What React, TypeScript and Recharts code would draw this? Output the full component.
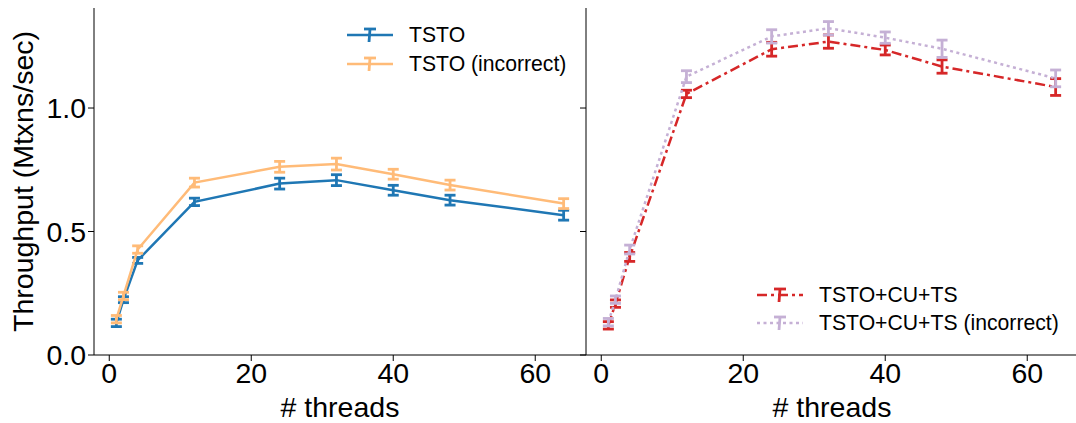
import React from "react"
import { LineChart, Line, XAxis, YAxis, ErrorBar, Legend, Label } from "recharts"

const threads = [1, 2, 4, 12, 24, 32, 40, 48, 64]

// left panel
const tsto = [0.13, 0.224, 0.383, 0.62, 0.694, 0.708, 0.667, 0.627, 0.566]
const tstoErr = [0.015, 0.012, 0.012, 0.015, 0.022, 0.022, 0.02, 0.02, 0.02]
const tstoBad = [0.145, 0.239, 0.427, 0.698, 0.762, 0.773, 0.732, 0.688, 0.613]
const tstoBadErr = [0.015, 0.015, 0.015, 0.018, 0.022, 0.024, 0.02, 0.02, 0.02]

// right panel
const tstoCu = [0.12, 0.208, 0.397, 1.057, 1.238, 1.269, 1.235, 1.168, 1.085]
const tstoCuErr = [0.015, 0.015, 0.018, 0.015, 0.028, 0.027, 0.02, 0.027, 0.034]
const tstoCuBad = [0.133, 0.224, 0.427, 1.127, 1.29, 1.323, 1.285, 1.24, 1.12]
const tstoCuBadErr = [0.015, 0.015, 0.018, 0.024, 0.027, 0.027, 0.023, 0.035, 0.034]

const xTicks = [0, 20, 40, 60]
const yTicks = [0, 0.5, 1.0]

const leftData = threads.map((t, i) => ({
  threads: t,
  tsto: tsto[i],
  tstoErr: tstoErr[i],
  tstoBad: tstoBad[i],
  tstoBadErr: tstoBadErr[i],
}))

const rightData = threads.map((t, i) => ({
  threads: t,
  tstoCu: tstoCu[i],
  tstoCuErr: tstoCuErr[i],
  tstoCuBad: tstoCuBad[i],
  tstoCuBadErr: tstoCuBadErr[i],
}))

const dashes: Record<string, string | undefined> = {
  tsto: undefined,
  tstoBad: undefined,
  tstoCu: "10 4 3 4",
  tstoCuBad: "3 3.5",
}

const X_DOMAIN: [number, number] = [-2.15, 67.15]
const Y_DOMAIN: [number, number] = [0, 1.405]
const FONT = "'Liberation Sans', Arial, sans-serif"
const BIG = 28.5

const LegendContent = ({ payload, rowHeight }: any) => (
  <div style={{ fontFamily: FONT }}>
    {(payload || []).map((entry: any) => {
      const dash = dashes[entry.dataKey]
      return (
        <div key={entry.value} style={{ display: "flex", alignItems: "center", height: rowHeight }}>
          <svg width={46} height={20} style={{ marginRight: 16 }}>
            <line x1={0} y1={10} x2={46} y2={10} stroke={entry.color} strokeWidth={2.5} strokeDasharray={dash} />
            <line x1={23} y1={4} x2={22} y2={17} stroke={entry.color} strokeWidth={2.8} />
            <line x1={17} y1={4} x2={29} y2={4} stroke={entry.color} strokeWidth={2.8} />
          </svg>
          <span style={{ fontSize: 21.2, color: "#000", whiteSpace: "nowrap" }}>{entry.value}</span>
        </div>
      )
    })}
  </div>
)

const YLabel = ({ viewBox }: any) => {
  const x = viewBox.x + 23
  const y = viewBox.y + viewBox.height / 2
  return (
    <text x={x} y={y} transform={`rotate(-90, ${x}, ${y})`} textAnchor="middle" dominantBaseline="central" fontSize={BIG} fill="#000">
      Throughput (Mtxns/sec)
    </text>
  )
}

const XLabel = ({ viewBox }: any) => (
  <text x={viewBox.x + viewBox.width / 2} y={viewBox.y + 52} textAnchor="middle" dominantBaseline="central" fontSize={BIG} fill="#000">
    # threads
  </text>
)

const tickStyle = { fontSize: BIG, fill: "#000" }

export default function App() {
  return (
    <div style={{ position: "absolute", left: 0, top: 0, width: 1076, height: 423, overflow: "hidden", background: "#fff", fontFamily: FONT }}>
      <div style={{ position: "absolute", left: 0, top: 0 }}>
        <LineChart width={590} height={423} data={leftData} margin={{ top: 8, right: 4, left: 0, bottom: 0 }}>
          <XAxis dataKey="threads" type="number" domain={X_DOMAIN} ticks={xTicks} allowDataOverflow height={68} tick={tickStyle} tickSize={6} stroke="#000">
            <Label content={<XLabel />} />
          </XAxis>
          <XAxis xAxisId="top" orientation="top" type="number" domain={X_DOMAIN} height={0} tick={false} tickLine={false} stroke="#000" />
          <YAxis type="number" domain={Y_DOMAIN} ticks={yTicks} allowDataOverflow width={94} tick={tickStyle} tickSize={6} tickFormatter={(v: number) => v.toFixed(1)} stroke="#000">
            <Label content={<YLabel />} />
          </YAxis>
          <YAxis yAxisId="right" orientation="right" type="number" domain={Y_DOMAIN} width={0} tick={false} tickLine={false} stroke="#000" />
          <Legend
            layout="vertical"
            align="center"
            verticalAlign="middle"
            wrapperStyle={{ left: 347, top: 21, width: 240 }}
            content={<LegendContent rowHeight={28.6} />}
          />
          <Line dataKey="tsto" name="TSTO" stroke="#1f77b4" strokeWidth={2.5} dot={false} isAnimationActive={false}>
            <ErrorBar dataKey="tstoErr" direction="y" width={5.5} stroke="#1f77b4" strokeWidth={2.8} />
          </Line>
          <Line dataKey="tstoBad" name="TSTO (incorrect)" stroke="#ffbb78" strokeWidth={2.5} dot={false} isAnimationActive={false}>
            <ErrorBar dataKey="tstoBadErr" direction="y" width={5.5} stroke="#ffbb78" strokeWidth={2.8} />
          </Line>
        </LineChart>
      </div>
      <div style={{ position: "absolute", left: 576, top: 0 }}>
        <LineChart width={502} height={423} data={rightData} margin={{ top: 8, right: 0, left: 0, bottom: 0 }}>
          <XAxis dataKey="threads" type="number" domain={X_DOMAIN} ticks={xTicks} allowDataOverflow height={68} tick={tickStyle} tickSize={6} stroke="#000">
            <Label content={<XLabel />} />
          </XAxis>
          <XAxis xAxisId="top" orientation="top" type="number" domain={X_DOMAIN} height={0} tick={false} tickLine={false} stroke="#000" />
          <YAxis type="number" domain={Y_DOMAIN} ticks={yTicks} allowDataOverflow width={10} tick={tickStyle} tickSize={6} tickFormatter={() => ""} stroke="#000" />
          <Legend
            layout="vertical"
            align="center"
            verticalAlign="middle"
            wrapperStyle={{ left: 181, top: 281, width: 320 }}
            content={<LegendContent rowHeight={28} />}
          />
          <Line dataKey="tstoCu" name="TSTO+CU+TS" stroke="#d62728" strokeWidth={2.5} strokeDasharray={dashes.tstoCu} dot={false} isAnimationActive={false}>
            <ErrorBar dataKey="tstoCuErr" direction="y" width={5.5} stroke="#d62728" strokeWidth={2.8} />
          </Line>
          <Line dataKey="tstoCuBad" name="TSTO+CU+TS (incorrect)" stroke="#c5b0d5" strokeWidth={2.5} strokeDasharray={dashes.tstoCuBad} dot={false} isAnimationActive={false}>
            <ErrorBar dataKey="tstoCuBadErr" direction="y" width={5.5} stroke="#c5b0d5" strokeWidth={2.8} />
          </Line>
        </LineChart>
      </div>
    </div>
  )
}
